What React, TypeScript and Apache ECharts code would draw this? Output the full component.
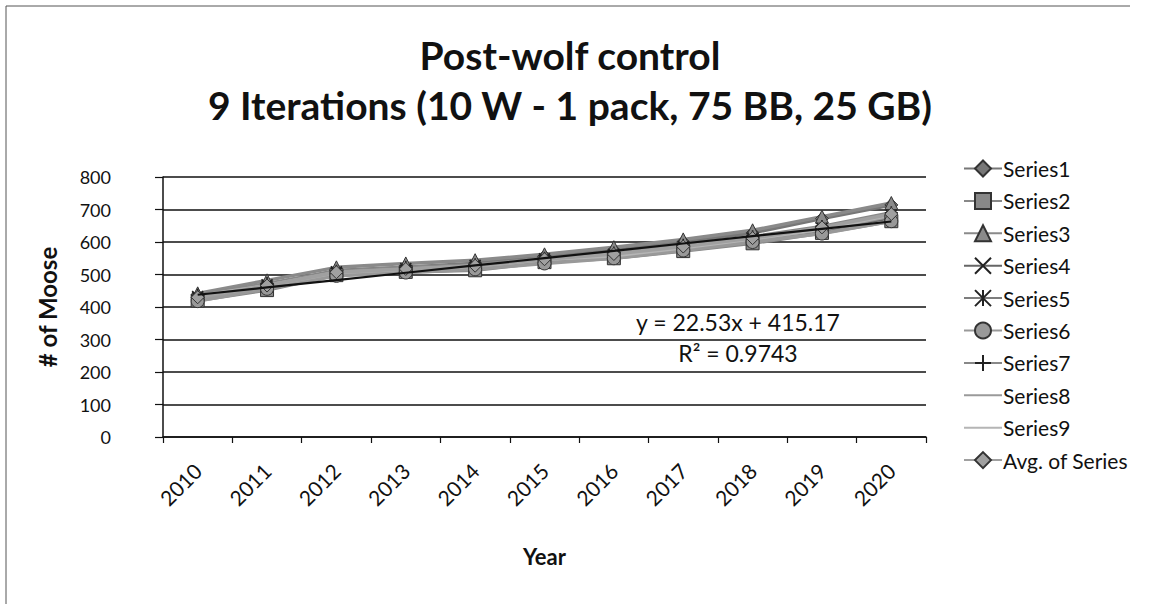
import React, { useEffect, useRef } from "react";
import * as echarts from "echarts";

const years = ["2010", "2011", "2012", "2013", "2014", "2015", "2016", "2017", "2018", "2019", "2020"];
const yTicks = [0, 100, 200, 300, 400, 500, 600, 700, 800];

const series1 = [430, 470, 512, 522, 535, 556, 575, 600, 628, 672, 714];
const series2 = [420, 452, 498, 508, 513, 538, 550, 572, 596, 628, 664];
const series3 = [442, 482, 522, 534, 544, 562, 584, 608, 636, 678, 720];
const series4 = [428, 462, 505, 512, 522, 542, 557, 580, 605, 635, 675];
const series5 = [432, 468, 508, 518, 528, 548, 562, 586, 612, 642, 682];
const series6 = [418, 456, 496, 506, 516, 534, 550, 574, 600, 626, 664];
const series7 = [436, 472, 510, 522, 530, 550, 566, 590, 616, 648, 690];
const series8 = [426, 460, 502, 514, 524, 544, 560, 584, 608, 638, 680];
const series9 = [434, 466, 506, 516, 526, 546, 558, 582, 610, 640, 684];
const avgSeries = [430, 466, 507, 517, 527, 547, 563, 586, 612, 645, 686];

const trendSlope = 22.53;
const trendIntercept = 415.17;
const trendR2 = "0.9743";

const FONT = "Lato, 'Open Sans', sans-serif";

export default function App() {
  const ref = useRef<HTMLDivElement>(null);
  useEffect(() => {
    if (!ref.current) return;
    const chart = echarts.init(ref.current, null, { renderer: "svg" });
    const xPath = "path://M0,0L10,10M10,0L0,10";
    const starPath = "path://M0,0L10,10M10,0L0,10M5,0L5,10";
    const plusPath = "path://M5,0L5,10M0,5L10,5";
    const defs: any[] = [
      { name: "Series1", data: series1, symbol: "diamond", color: "#777", size: 13 },
      { name: "Series2", data: series2, symbol: "rect", color: "#888", size: 13 },
      { name: "Series3", data: series3, symbol: "triangle", color: "#8a8a8a", size: 13 },
      { name: "Series4", data: series4, symbol: xPath, color: "#666", size: 11, stroke: true },
      { name: "Series5", data: series5, symbol: starPath, color: "#7d7d7d", size: 11, stroke: true },
      { name: "Series6", data: series6, symbol: "circle", color: "#999", size: 13 },
      { name: "Series7", data: series7, symbol: plusPath, color: "#888", size: 13, stroke: true },
      { name: "Series8", data: series8, symbol: "none", color: "#9a9a9a", size: 0 },
      { name: "Series9", data: series9, symbol: "none", color: "#b5b5b5", size: 0 },
      { name: "Avg. of Series", data: avgSeries, symbol: "diamond", color: "#a0a0a0", size: 13 },
    ];
    const lineSeries = defs.map((d) => ({
      type: "line",
      name: d.name,
      data: d.data,
      symbol: d.symbol,
      symbolSize: d.size,
      showSymbol: d.symbol !== "none",
      lineStyle: { color: d.color, width: 3.5 },
      itemStyle: d.stroke
        ? { color: "transparent", borderColor: "#222", borderWidth: 1.6 }
        : { color: d.color, borderColor: "#333", borderWidth: 1 },
      color: d.color,
      z: 3,
    }));
    const trendData = years.map((_, i) => +(trendIntercept + trendSlope * (i + 1)).toFixed(2));
    chart.setOption({
      animation: false,
      backgroundColor: "#fff",
      title: {
        text: "Post-wolf control\n9 Iterations (10 W - 1 pack, 75 BB, 25 GB)",
        left: 565,
        top: 25,
        textAlign: "center",
        textStyle: { fontFamily: FONT, fontWeight: "bold", fontSize: 39, lineHeight: 50, color: "#111" },
      },
      legend: {
        orient: "vertical",
        left: 958,
        top: 153,
        itemWidth: 38,
        itemHeight: 20,
        itemGap: 11.4,
        data: defs.map((d) =>
          d.symbol === "none" ? { name: d.name, itemStyle: { opacity: 0 } } : { name: d.name }
        ),
        textStyle: { fontFamily: FONT, fontSize: 21, color: "#111", lineHeight: 20, padding: [0, 0, 0, -4] },
      },
      grid: { left: 163, right: 243, top: 177, bottom: 167, outerBoundsMode: "none", containLabel: false },
      xAxis: {
        type: "category",
        data: years,
        boundaryGap: true,
        name: "Year",
        nameLocation: "middle",
        nameGap: 108,
        nameTextStyle: { fontFamily: FONT, fontWeight: "bold", fontSize: 22, color: "#111" },
        axisLine: { lineStyle: { color: "#111", width: 1.5 } },
        axisTick: { show: true, alignWithLabel: false, length: 6, lineStyle: { color: "#111", width: 1.2 } },
        axisLabel: { rotate: 45, margin: 30, fontFamily: FONT, fontSize: 21, color: "#111", interval: 0 },
      },
      yAxis: {
        type: "value",
        min: yTicks[0],
        max: yTicks[yTicks.length - 1],
        interval: 100,
        name: "# of Moose",
        nameLocation: "middle",
        nameGap: 104,
        nameTextStyle: { fontFamily: FONT, fontWeight: "bold", fontSize: 24, color: "#111" },
        axisLine: { show: true, lineStyle: { color: "#111", width: 1.5 } },
        axisTick: { show: true, inside: false, length: 8, lineStyle: { color: "#111", width: 1.2 } },
        axisLabel: { margin: 52, fontFamily: FONT, fontSize: 18, color: "#111" },
        splitLine: { show: true, lineStyle: { color: "#111", width: 1.5 } },
      },
      series: [
        ...lineSeries,
        {
          type: "line",
          name: "Linear (Avg. of Series)",
          data: trendData,
          symbol: "none",
          lineStyle: { color: "#111", width: 2.2 },
          z: 5,
        },
      ],
      graphic: [
        { type: "line", shape: { x1: 6, y1: 6, x2: 1130, y2: 6 }, style: { stroke: "#555", lineWidth: 1 } },
        { type: "line", shape: { x1: 6, y1: 6, x2: 6, y2: 604 }, style: { stroke: "#555", lineWidth: 1 } },
        {
          type: "text",
          x: 738,
          y: 322,
          style: {
            text: `y = ${trendSlope}x + ${trendIntercept}`,
            fontFamily: FONT,
            fontSize: 23,
            fill: "#111",
            align: "center",
            verticalAlign: "middle",
            backgroundColor: "#fff",
          },
          z: 10,
        },
        {
          type: "text",
          x: 738,
          y: 353,
          style: {
            text: `R² = ${trendR2}`,
            fontFamily: FONT,
            fontSize: 23,
            fill: "#111",
            align: "center",
            verticalAlign: "middle",
            backgroundColor: "#fff",
          },
          z: 10,
        },
      ],
    });
    return () => chart.dispose();
  }, []);
  return <div ref={ref} style={{ position: "fixed", left: 0, top: 0, width: 1169, height: 604 }} />;
}
